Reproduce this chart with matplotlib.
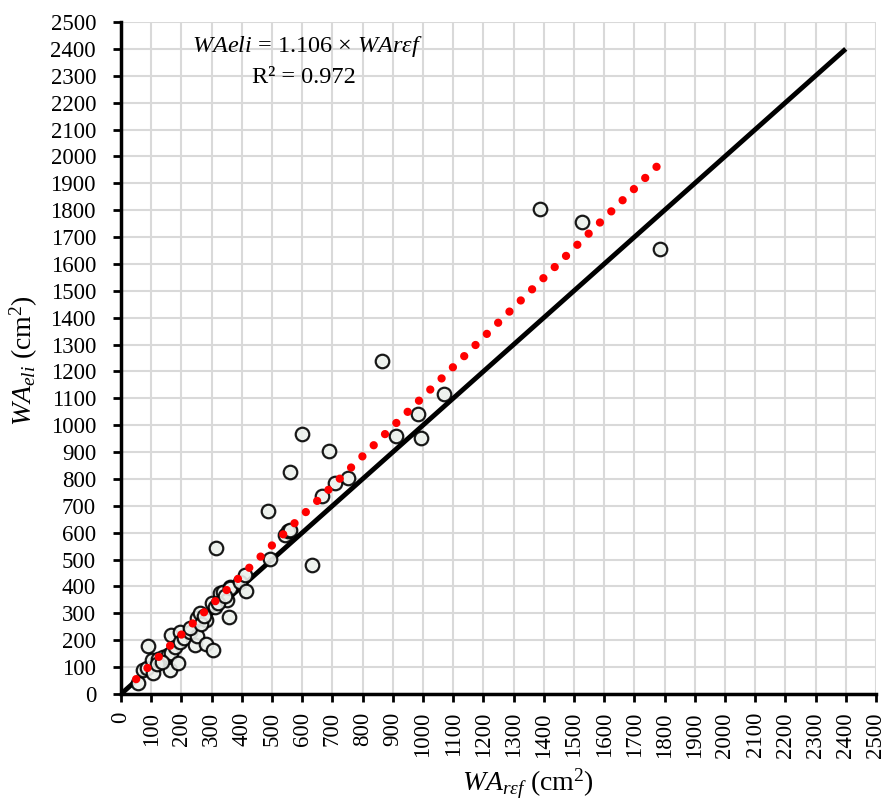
"""
WA_eli vs WA_ref scatter with 1:1 line and fitted regression (dotted red).
"""

import numpy as np
import matplotlib.pyplot as plt

plt.rcParams["font.family"] = ["Liberation Serif", "DejaVu Serif"]
plt.rcParams["mathtext.fontset"] = "custom"
plt.rcParams["mathtext.rm"] = "Liberation Serif"
plt.rcParams["mathtext.it"] = "Liberation Serif:italic"

# Observed leaf areas (cm2): reference vs ellipse estimate
wa_ref = [55, 74, 85, 89, 101, 107, 123, 140, 156, 162, 167, 167, 179, 190,
          195, 195, 207, 228, 245, 250, 250, 262, 283, 283, 300, 305, 311,
          315, 328, 339, 350, 358, 361, 361, 394, 411, 414, 487, 493, 543,
          554, 560, 560, 599, 634, 666, 689, 709, 752, 864, 911, 983, 993,
          1070, 1387, 1526, 1785, 120, 135, 230, 265, 275, 320, 345]
wa_eli = [40, 89, 95, 178, 126, 77, 132, 139, 145, 89, 219, 151, 176, 114,
          232, 195, 207, 232, 182, 282, 215, 300, 187, 275, 337, 164, 325,
          543, 374, 381, 350, 286, 398, 394, 418, 443, 383, 681, 502, 592,
          606, 826, 610, 967, 480, 737, 904, 785, 804, 1239, 960, 1042, 952,
          1116, 1804, 1756, 1655, 110, 120, 245, 262, 290, 340, 365]

slope = 1.106
r2 = 0.972
fit_range = [50, 1782]
one_to_one = [0, 2400]

fig = plt.figure(figsize=(8.92, 8.01), dpi=100)
ax = fig.add_axes([0.1357, 0.1336, 0.8463, 0.8389])

ax.set_xlim(0, 2500)
ax.set_ylim(0, 2500)
ticks = np.arange(0, 2501, 100)
ax.set_xticks(ticks)
ax.set_yticks(ticks)
ax.set_xticklabels([str(t) for t in ticks], rotation=90, fontsize=16.5)
ax.set_yticklabels([str(t) for t in ticks], fontsize=16.5)
ax.grid(True, color="#d9d9d9", lw=1.5, zorder=0)
ax.set_axisbelow(True)

for side in ("top", "right"):
    ax.spines[side].set_visible(False)
for side in ("left", "bottom"):
    ax.spines[side].set_linewidth(2.5)
ax.tick_params(direction="out", length=6, width=2)
ax.tick_params(axis="x", pad=7)
ax.tick_params(axis="y", pad=12)

# 1:1 line
ax.plot(one_to_one, one_to_one, color="black", lw=3.5, zorder=2,
        solid_capstyle="butt")

# points
ax.scatter(wa_ref, wa_eli, s=95, facecolor="#edf1ed", edgecolor="black",
           linewidth=1.6, alpha=0.9, zorder=3)

# regression line (dotted red), gap tuned so a dot lands on both ends
fx = np.array(fit_range, dtype=float)
fy = slope * fx
p0, p1 = ax.transData.transform([(fx[0], fy[0]), (fx[1], fy[1])])
length_pt = np.hypot(*(p1 - p0)) * 72 / fig.dpi
lw_dot = 6
n_gaps = 46
period = 0.995 * length_pt / n_gaps / lw_dot
ax.plot(fx, fy, color="#ff0000", lw=lw_dot, zorder=4,
        ls=(0, (0.001, period - 0.001)), dash_capstyle="round")

ax.text(0.094, 0.963, r"$\it{WAeli}$ = 1.106 × $\it{WAr\epsilon f}$",
        transform=ax.transAxes, ha="left", va="center", fontsize=17.5)
ax.text(0.242, 0.917, f"R² = {r2}", transform=ax.transAxes,
        ha="center", va="center", fontsize=17.5)

ax.set_xlabel(r"$\it{WA}_{r\epsilon f}$ (cm$^2$)", fontsize=20)
ax.set_ylabel(r"$\it{WA}_{eli}$ (cm$^2$)", fontsize=20)
ax.xaxis.set_label_coords(0.539, -0.108)
ax.yaxis.set_label_coords(-0.108, 0.496)

fig.savefig("out.png", dpi=100)
